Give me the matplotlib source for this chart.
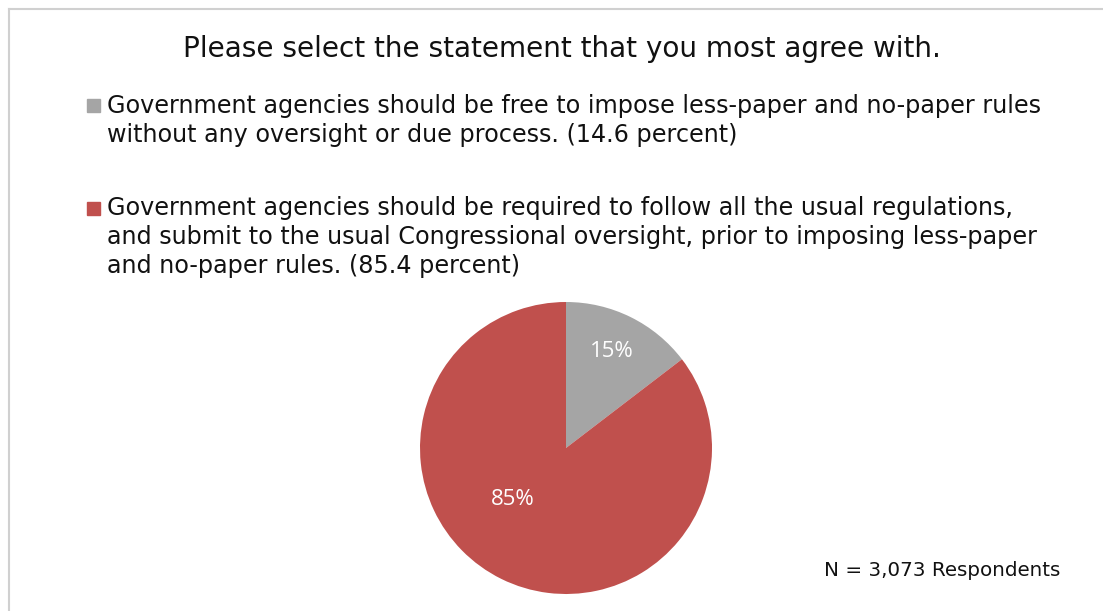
"""Pie chart: agency paper-rule oversight survey."""
import numpy as np
import matplotlib
matplotlib.use("Agg")
import matplotlib.pyplot as plt
from matplotlib.patches import Rectangle
from matplotlib.lines import Line2D

title = "Please select the statement that you most agree with."
labels = [
    "Government agencies should be free to impose less-paper and no-paper rules\n"
    "without any oversight or due process. (14.6 percent)",
    "Government agencies should be required to follow all the usual regulations,\n"
    "and submit to the usual Congressional oversight, prior to imposing less-paper\n"
    "and no-paper rules. (85.4 percent)",
]
shares = [14.6, 85.4]
colors = ["#A5A5A5", "#C0504D"]
note = "N = 3,073 Respondents"

W, H = 1103, 611
fig = plt.figure(figsize=(W / 100, H / 100), dpi=100)
fig.patch.set_facecolor("white")


def fx(px):
    return px / W


def fy(py):
    return 1 - py / H


# frame (top and left edges only visible)
fig.add_artist(Line2D([fx(9), 1], [fy(9), fy(9)], color="#D0D0D0", lw=1.5))
fig.add_artist(Line2D([fx(9), fx(9)], [fy(9), 0], color="#D0D0D0", lw=1.5))

fig.text(fx(562), fy(49), title, ha="center", va="center", fontsize=20.1, color="#111111")

# legend
legend_tops = [94, 196]
square_tops = [99, 202]
for lab, col, top, sq in zip(labels, colors, legend_tops, square_tops):
    fig.add_artist(Rectangle((fx(87), fy(sq + 13)), fx(13), 13 / H, color=col,
                             transform=fig.transFigure))
    fig.text(fx(107), fy(top), lab, ha="left", va="top", fontsize=17.2,
             color="#111111", linespacing=1.27)

# pie
r_px = 146
cx, cy = 566, 448
ax = fig.add_axes([fx(cx - r_px), fy(cy + r_px), 2 * r_px / W, 2 * r_px / H])
wedges, _ = ax.pie(shares, colors=colors, startangle=90, counterclock=False,
                   wedgeprops=dict(linewidth=0))
ax.set_xlim(-1, 1)
ax.set_ylim(-1, 1)
ax.set_aspect("equal")

label_r = [0.73, 0.51]
label_ang = [64.4, 224.0]
for v, r, a in zip(shares, label_r, label_ang):
    t = np.deg2rad(a)
    ax.text(r * np.cos(t), r * np.sin(t), f"{v:.0f}%", ha="center", va="center",
            color="white", fontsize=16, family="Open Sans")

fig.text(fx(1060), fy(571), note, ha="right", va="center", fontsize=14.3, color="#111111")

fig.savefig("out.png", dpi=100)
